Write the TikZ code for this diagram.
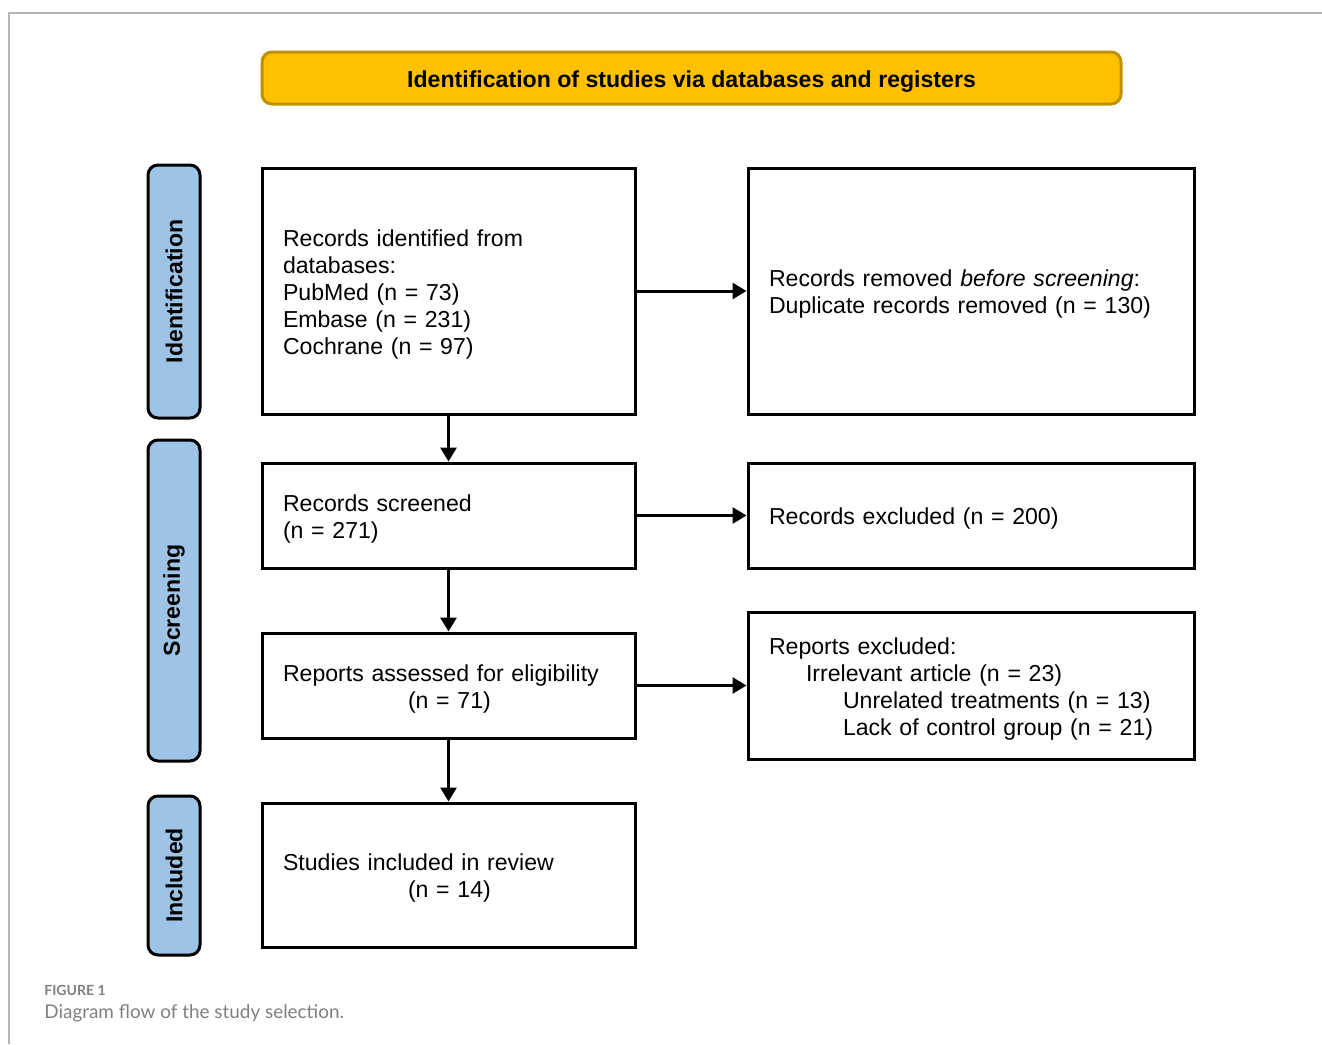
\documentclass[tikz,border=0pt]{standalone}
\usepackage{fontspec}
\setmainfont{Liberation Sans}
\newfontfamily\capfont{Lato}
\usepackage{tikz}
\usetikzlibrary{arrows.meta}
\definecolor{titlefill}{HTML}{FFC000}
\definecolor{titleedge}{HTML}{BF9000}
\definecolor{phasefill}{HTML}{9DC3E6}
\definecolor{framegray}{HTML}{B4B4B4}
\definecolor{capgray}{HTML}{7F7F7F}
\newcommand{\bodyfont}{\fontsize{11.55}{13.5}\selectfont}

\begin{document}
\begin{tikzpicture}[x=0.5pt, y=-0.5pt,
    box/.style={draw, line width=1.5pt, align=left, inner xsep=10.5pt, font=\bodyfont,
        execute at begin node=\rule{0pt}{11.5pt}},
    lbox/.style={box, text width=165.5pt},
    rbox/.style={box, text width=202pt},
    phase/.style={draw, line width=1.5pt, rounded corners=5pt, fill=phasefill, rotate=90,
        minimum height=26pt, inner sep=0pt, font=\bodyfont\bfseries},
    arr/.style={line width=1.5pt, -{Triangle[length=7pt,width=8pt]}}]
        \useasboundingbox (0,0) rectangle (1322,1044);
        \draw [framegray, line width=1pt] (9,1044) -- (9,13) -- (1322,13);
        \node [draw=titleedge, fill=titlefill, line width=1.5pt, rounded corners=5pt,
            minimum width=429.5pt, minimum height=26pt, font=\bodyfont\bfseries,
            execute at begin node=\rule{0pt}{11.5pt}]
            (title) at (691.5,78) {Identification of studies via databases and registers};
        \node [phase, minimum width=126.5pt] (ident) at (174,291.5) {Identification};
        \node [phase, minimum width=160.5pt] (screen) at (174,600.5) {Screening};
        \node [phase, minimum width=79.5pt] (incl) at (174,875.5) {Included};
        \node [lbox, minimum height=123pt] (found) at (448.5,291)
            {Records identified from\\databases:\\PubMed (n = 73)\\Embase (n = 231)\\Cochrane (n = 97)};
        \node [rbox, minimum height=123pt] (dups) at (971,291)
            {Records removed \textit{before screening}:\\Duplicate records removed (n = 130)};
        \node [lbox, minimum height=52.5pt] (screened) at (448.5,515.5)
            {Records screened\\(n = 271)};
        \node [rbox, minimum height=52.5pt] (excl) at (971,515.5)
            {Records excluded (n = 200)};
        \node [lbox, minimum height=52.5pt] (assessed) at (448.5,685.5)
            {Reports assessed for eligibility\\\hspace*{62.5pt}(n = 71)};
        \node [rbox, minimum height=73.5pt] (repexcl) at (971,685.5)
            {Reports excluded:\\\hspace*{18.5pt}Irrelevant article (n = 23)\\\hspace*{37pt}Unrelated treatments (n = 13)\\\hspace*{37pt}Lack of control group (n = 21)};
        \node [lbox, minimum height=72pt] (included) at (448.5,875)
            {Studies included in review\\\hspace*{62.5pt}(n = 14)};
        \draw [arr] (found) -- (screened);
        \draw [arr] (screened) -- (assessed);
        \draw [arr] (assessed) -- (included);
        \draw [arr] (found) -- (dups);
        \draw [arr] (screened) -- (excl);
        \draw [arr] (assessed) -- (repexcl);
        \node [anchor=west, text=capgray, font=\capfont\bfseries\fontsize{7}{8}\selectfont, inner sep=0pt]
            (fig) at (44,990) {FIGURE 1};
        \node [anchor=west, text=capgray, font=\capfont\fontsize{9.45}{11}\selectfont, inner sep=0pt]
            (cap) at (44,1013) {Diagram flow of the study selection.};
\end{tikzpicture}
\end{document}
